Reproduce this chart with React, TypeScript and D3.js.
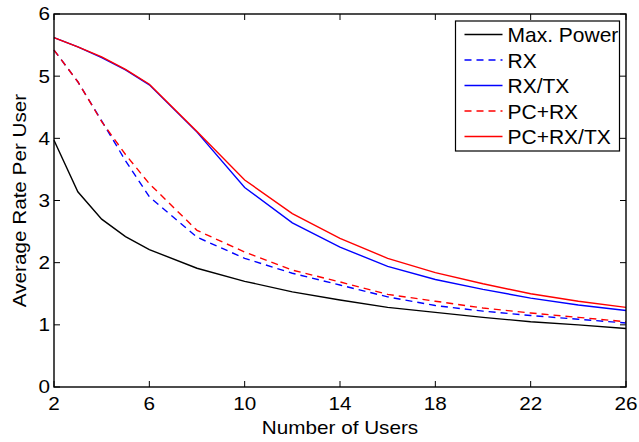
import React from "react";
import * as d3 from "d3";

const users = [2, 3, 4, 5, 6, 8, 10, 12, 14, 16, 18, 20, 22, 24, 26];
const maxPower = [3.97, 3.14, 2.7, 2.42, 2.21, 1.91, 1.7, 1.53, 1.4, 1.28, 1.2, 1.12, 1.05, 1.0, 0.94];
const rx = [5.42, 4.91, 4.28, 3.64, 3.06, 2.41, 2.07, 1.83, 1.64, 1.45, 1.31, 1.22, 1.15, 1.09, 1.03];
const rxtx = [5.62, 5.47, 5.3, 5.1, 4.86, 4.1, 3.21, 2.64, 2.25, 1.94, 1.73, 1.57, 1.43, 1.32, 1.23];
const pcrx = [5.42, 4.91, 4.27, 3.74, 3.27, 2.52, 2.17, 1.88, 1.69, 1.49, 1.38, 1.27, 1.19, 1.12, 1.05];
const pcrxtx = [5.62, 5.47, 5.31, 5.11, 4.87, 4.11, 3.33, 2.79, 2.39, 2.07, 1.84, 1.66, 1.5, 1.38, 1.28];

const xTicks = [2, 6, 10, 14, 18, 22, 26];
const yTicks = [0, 1, 2, 3, 4, 5, 6];

const seriesNames = ["Max. Power", "RX", "RX/TX", "PC+RX", "PC+RX/TX"];
const seriesData = [maxPower, rx, rxtx, pcrx, pcrxtx];
const seriesColors = ["#000000", "#0000ff", "#0000ff", "#ff0000", "#ff0000"];
const seriesDashed = [false, true, false, true, false];

const W = 639, H = 442;
const L = 54, R = 626, T = 14, B = 387;
const FONT = "'Liberation Sans', Arial, Helvetica, sans-serif";
const SX = 1.15;

export default function App() {
  const x = d3.scaleLinear().domain([2, 26]).range([L, R]);
  const y = d3.scaleLinear().domain([0, 6]).range([B, T]);
  const line = d3
    .line<number>()
    .x((_, i) => x(users[i]))
    .y((d) => y(d));

  const order = [0, 1, 3, 2, 4];
  const lgX = 455.5, lgY = 21, lgW = 164, lgH = 130;
  const rowY = (i: number) => 34.5 + i * 25.5;

  return (
    <svg width={W} height={H} style={{ position: "absolute", left: 0, top: 0, background: "#fff" }}>
      <rect x={0} y={0} width={W} height={H} fill="#fff" />
      {order.map((k) => (
        <path
          key={k}
          d={line(seriesData[k]) || ""}
          fill="none"
          stroke={seriesColors[k]}
          strokeWidth={1.4}
          strokeDasharray={seriesDashed[k] ? "7,5" : undefined}
        />
      ))}
      <rect x={L} y={T} width={R - L} height={B - T} fill="none" stroke="#000" strokeWidth={1.4} />
      {xTicks.map((t) => (
        <g key={"x" + t}>
          <line x1={x(t)} x2={x(t)} y1={B} y2={B - 6} stroke="#000" strokeWidth={1} />
          <line x1={x(t)} x2={x(t)} y1={T} y2={T + 6} stroke="#000" strokeWidth={1} />
          <text
            transform={`translate(${x(t)},${410}) scale(${SX},1)`}
            textAnchor="middle"
            fontFamily={FONT}
            fontSize={18}
            fill="#000"
          >
            {t}
          </text>
        </g>
      ))}
      {yTicks.map((t) => (
        <g key={"y" + t}>
          <line x1={L} x2={L + 6} y1={y(t)} y2={y(t)} stroke="#000" strokeWidth={1} />
          <line x1={R} x2={R - 6} y1={y(t)} y2={y(t)} stroke="#000" strokeWidth={1} />
          <text
            transform={`translate(${50},${y(t) + 6.4}) scale(${SX},1)`}
            textAnchor="end"
            fontFamily={FONT}
            fontSize={18}
            fill="#000"
          >
            {t}
          </text>
        </g>
      ))}
      <text
        transform={`translate(${(L + R) / 2},${434}) scale(${SX},1)`}
        textAnchor="middle"
        fontFamily={FONT}
        fontSize={18}
        fill="#000"
      >
        Number of Users
      </text>
      <text
        transform={`translate(${26},${(T + B) / 2}) rotate(-90) scale(${SX},1)`}
        textAnchor="middle"
        fontFamily={FONT}
        fontSize={18}
        fill="#000"
      >
        Average Rate Per User
      </text>
      <rect x={lgX} y={lgY} width={lgW} height={lgH} fill="#fff" stroke="#000" strokeWidth={1.2} />
      {seriesNames.map((n, i) => (
        <g key={n}>
          <line
            x1={464.5}
            x2={502.5}
            y1={rowY(i)}
            y2={rowY(i)}
            stroke={seriesColors[i]}
            strokeWidth={1.4}
            strokeDasharray={seriesDashed[i] ? "7,5" : undefined}
          />
          <text x={507.5} y={rowY(i) + 7.5} fontFamily={FONT} fontSize={21} fill="#000">
            {n}
          </text>
        </g>
      ))}
    </svg>
  );
}
